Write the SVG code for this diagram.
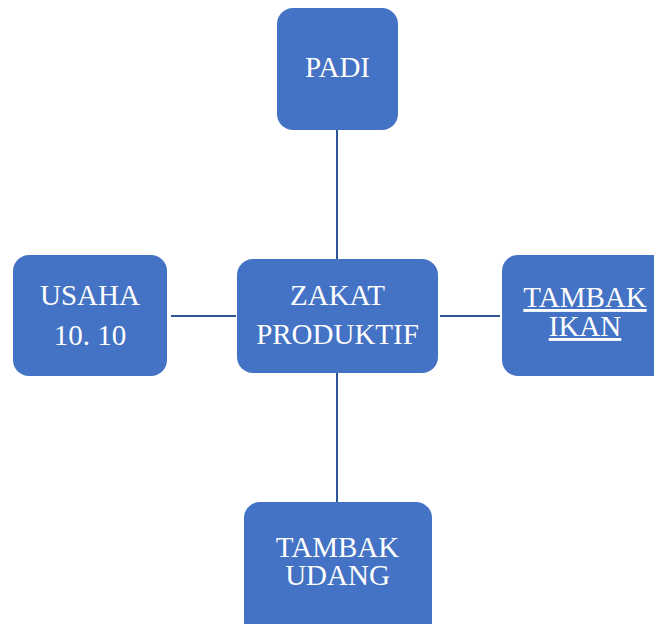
<svg xmlns="http://www.w3.org/2000/svg" width="654" height="624" viewBox="0 0 654 624">
<style>
.box{fill:#4472C4;stroke:none}
.lbl{font-family:"Liberation Serif","Times New Roman",serif;font-size:29px;fill:#ffffff;text-anchor:middle}
.con{stroke:#2F5597;stroke-width:2;fill:none}
</style>
<rect width="654" height="624" fill="#ffffff"/>
<g id="connectors">
<line class="con" x1="337" y1="130" x2="337" y2="259"/>
<line class="con" x1="337" y1="373" x2="337" y2="502"/>
<line class="con" x1="171" y1="316" x2="236" y2="316"/>
<line class="con" x1="440" y1="316" x2="500" y2="316"/>
</g>
<g id="padi">
<rect class="box" x="277" y="8" width="121" height="122" rx="16"/>
<text class="lbl" x="337.5" y="77">PADI</text>
</g>
<g id="zakat">
<rect class="box" x="237" y="259" width="201" height="114" rx="16"/>
<text class="lbl" x="337.5" y="305">ZAKAT</text>
<text class="lbl" x="337.5" y="344">PRODUKTIF</text>
</g>
<g id="usaha">
<rect class="box" x="13" y="255" width="154" height="121" rx="16"/>
<text class="lbl" x="90" y="305">USAHA</text>
<text class="lbl" x="90" y="345">10. 10</text>
</g>
<g id="tambak-ikan">
<rect class="box" x="502" y="255" width="170" height="121" rx="16"/>
<text class="lbl" x="585" y="307" text-decoration="underline">TAMBAK</text>
<text class="lbl" x="585" y="336" text-decoration="underline">IKAN</text>
</g>
<g id="tambak-udang">
<rect class="box" x="244" y="502" width="188" height="136" rx="16"/>
<text class="lbl" x="337.5" y="557">TAMBAK</text>
<text class="lbl" x="337.5" y="585">UDANG</text>
</g>
</svg>
